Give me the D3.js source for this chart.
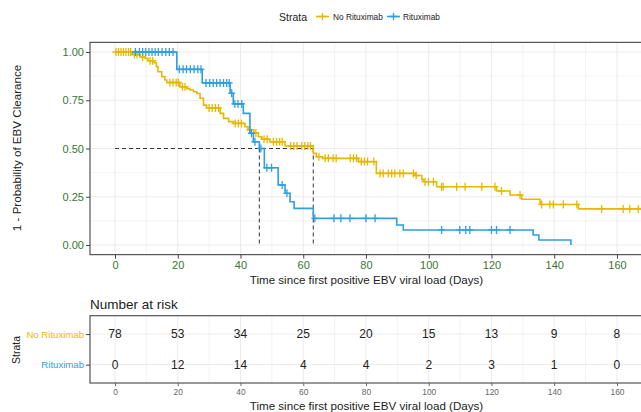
<!DOCTYPE html>
<html lang="en">
<head>
<meta charset="utf-8">
<title>EBV clearance by rituximab</title>
<script src="https://cdn.jsdelivr.net/npm/d3@7"></script>
<style>
body { margin: 0; background: #fff; }
text { font-family: "Liberation Sans", Arial, sans-serif; }
</style>
</head>
<body>
<script>

// strata + colours
var strata = ["No Rituximab", "Rituximab"];
var colors = ["#E7B800", "#2E9FDF"];

// No Rituximab: step times and value after each step
var noRitTime = [0, 5.5, 8.0, 9.6, 10.5, 12.5, 13.2, 13.7, 14.9, 15.9, 16.5, 20.7, 22.9, 23.9, 25.0, 26.1, 27.1, 28.2, 29.2, 33.5, 34.6, 36.2, 37.8, 41.4, 42.4, 44.3, 45.7, 46.8, 49.4, 54.2, 63.2, 64.2, 66.2, 77.6, 83.3, 95.6, 97.8, 98.4, 102.5, 121.6, 125.9, 129.6, 135.5, 147.7];
var noRitSurv = [1, 0.987, 0.974, 0.967, 0.955, 0.945, 0.924, 0.898, 0.872, 0.855, 0.842, 0.82, 0.81, 0.803, 0.794, 0.785, 0.76, 0.725, 0.71, 0.682, 0.656, 0.639, 0.63, 0.613, 0.596, 0.58, 0.561, 0.548, 0.535, 0.513, 0.475, 0.457, 0.449, 0.432, 0.371, 0.36, 0.34, 0.328, 0.302, 0.28, 0.259, 0.237, 0.21, 0.187];
var noRitEnd = 170;
var noRitCens = [0.3, 1.1, 1.9, 2.7, 3.5, 4.3, 5.0, 6.2, 7.0, 8.8, 11.2, 12.0, 17.5, 18.5, 19.5, 20.2, 21.5, 22.3, 30.0, 31.0, 32.0, 33.0, 38.3, 39.3, 40.3, 43.0, 44.9, 47.5, 48.5, 50.5, 51.5, 52.5, 53.3, 56.0, 57.0, 58.0, 59.5, 60.5, 61.5, 62.3, 65.0, 67.0, 68.0, 69.5, 70.5, 75.0, 76.0, 77.0, 78.5, 79.5, 80.5, 82.5, 84.5, 85.5, 87.1, 88.2, 89.2, 90.8, 91.9, 95.1, 96.0, 98.8, 99.9, 101.5, 104.1, 104.6, 108.9, 111.6, 116.9, 121.1, 123.2, 129.1, 136.0, 138.6, 139.7, 142.9, 147.2, 155.1, 162.0, 164.1, 166.8];

// Rituximab
var ritTime = [5.8, 19.7, 27.8, 36.7, 37.7, 40.9, 43.0, 44.1, 46.0, 47.6, 52.0, 54.2, 55.8, 57.1, 63.2, 89.8, 91.9, 133.3, 135.1, 145.3];
var ritSurv = [1, 0.91, 0.84, 0.786, 0.731, 0.682, 0.579, 0.535, 0.50, 0.40, 0.311, 0.268, 0.224, 0.19, 0.138, 0.104, 0.078, 0.052, 0.026, 0];
var ritEnd = 145.3;
var ritCens = [6.5, 7.8, 8.8, 9.8, 10.8, 11.8, 12.8, 13.8, 15.0, 16.2, 17.3, 18.5, 20.5, 21.7, 22.8, 24.0, 25.2, 26.4, 27.4, 29.0, 30.2, 31.3, 32.4, 33.5, 34.6, 35.6, 36.4, 37.2, 38.2, 39.2, 40.4, 43.5, 44.6, 46.5, 48.4, 49.9, 53.3, 54.8, 63.7, 69.8, 72.0, 74.9, 80.0, 82.9, 104.1, 109.9, 111.8, 113.1, 120.0, 121.6, 125.9];

var medians = [63.2, 46.0];

// risk table
var riskTimes = [0, 20, 40, 60, 80, 100, 120, 140, 160];
var riskNoRit = [78, 53, 34, 25, 20, 15, 13, 9, 8];
var riskRit = [0, 12, 14, 4, 4, 2, 3, 1, 0];

var xTicks = [0, 20, 40, 60, 80, 100, 120, 140, 160];
var yTicks = [0, 0.25, 0.5, 0.75, 1];

var W = 641, H = 412;
var svg = d3.select("body").append("svg")
  .attr("width", W).attr("height", H)
  .style("background", "#fff");

var x = d3.scaleLinear().domain([-7.97, 168.3]).range([90, 643]);
var y = d3.scaleLinear().domain([-0.05, 1.05]).range([254.65, 42.35]);

var tickCol = "#3a7434";
var gridCol = "#ebebeb";

// grid
var gx = d3.range(0, 170, 10);
var gy = d3.range(0, 1.01, 0.125);
svg.append("g").selectAll("line").data(gx).enter().append("line")
  .attr("x1", function(d) { return x(d); }).attr("x2", function(d) { return x(d); })
  .attr("y1", y(-0.05)).attr("y2", y(1.05))
  .attr("stroke", gridCol).attr("stroke-width", function(d) { return d % 20 == 0 ? 1 : 0.6; });
svg.append("g").selectAll("line").data(gy).enter().append("line")
  .attr("y1", function(d) { return y(d); }).attr("y2", function(d) { return y(d); })
  .attr("x1", 90).attr("x2", 643)
  .attr("stroke", gridCol).attr("stroke-width", function(d, i) { return i % 2 == 0 ? 1 : 0.6; });

svg.append("clipPath").attr("id", "clip")
  .append("rect").attr("x", 90).attr("y", 42).attr("width", 553).attr("height", 213);

// median lines
var med = svg.append("g").attr("stroke", "#333").attr("stroke-width", 1)
  .attr("stroke-dasharray", "4,3").attr("fill", "none");
med.append("line").attr("x1", x(0)).attr("x2", x(d3.max(medians)))
  .attr("y1", y(0.5)).attr("y2", y(0.5));
med.selectAll("line.v").data(medians).enter().append("line").attr("class", "v")
  .attr("x1", function(d) { return x(d); }).attr("x2", function(d) { return x(d); })
  .attr("y1", y(0.5)).attr("y2", y(0));

function stepAt(times, surv, t) {
  var i = d3.bisectRight(times, t) - 1;
  return surv[Math.max(i, 0)];
}

var line = d3.line()
  .x(function(d) { return x(d[0]); })
  .y(function(d) { return y(d[1]); })
  .curve(d3.curveStepAfter);

var series = [
  { times: noRitTime, surv: noRitSurv, end: noRitEnd, cens: noRitCens, col: colors[0] },
  { times: ritTime, surv: ritSurv, end: ritEnd, cens: ritCens, col: colors[1] }
];

var plot = svg.append("g").attr("clip-path", "url(#clip)");
series.forEach(function(s) {
  var pts = s.times.map(function(t, i) { return [t, s.surv[i]]; });
  pts.push([s.end, s.surv[s.surv.length - 1]]);
  plot.append("path").datum(pts)
    .attr("d", line).attr("fill", "none")
    .attr("stroke", s.col).attr("stroke-width", 1.6);
  plot.append("g").selectAll("path").data(s.cens).enter().append("path")
    .attr("transform", function(t) { return "translate(" + x(t) + "," + y(stepAt(s.times, s.surv, t)) + ")"; })
    .attr("d", "M-3.5,0H3.5M0,-4V4")
    .attr("stroke", s.col).attr("stroke-width", 1.3).attr("fill", "none");
});

// panel border
svg.append("rect").attr("x", 90).attr("y", 42.35).attr("width", 560).attr("height", 212.3)
  .attr("fill", "none").attr("stroke", "#444").attr("stroke-width", 1.1);

// axes
var yAxis = svg.append("g").attr("transform", "translate(90,0)")
  .call(d3.axisLeft(y).tickValues(yTicks).tickFormat(d3.format(".2f")).tickSize(4).tickPadding(2));
var xAxis = svg.append("g").attr("transform", "translate(0,254.65)")
  .call(d3.axisBottom(x).tickValues(xTicks).tickSize(4).tickPadding(3));
[xAxis, yAxis].forEach(function(a) {
  a.select(".domain").remove();
  a.selectAll("line").attr("stroke", "#444");
  a.selectAll("text").attr("fill", tickCol).attr("font-size", "11px")
    .style("font-family", "'Liberation Sans', Arial, sans-serif");
});

svg.append("text").attr("transform", "translate(21,148) rotate(-90)")
  .attr("text-anchor", "middle").attr("font-size", "11.6px").attr("fill", "#222")
  .text("1 - Probability of EBV Clearance");
svg.append("text").attr("x", 366.5).attr("y", 284)
  .attr("text-anchor", "middle").attr("font-size", "11.6px").attr("fill", "#222")
  .text("Time since first positive EBV viral load (Days)");

// legend
var leg = svg.append("g");
leg.append("text").attr("x", 279).attr("y", 20.5).attr("font-size", "10.5px").attr("fill", "#222").text("Strata");
var legX = [316, 387];
var legLabX = [333, 403];
strata.forEach(function(s, i) {
  leg.append("line").attr("x1", legX[i]).attr("x2", legX[i] + 13).attr("y1", 16.5).attr("y2", 16.5)
    .attr("stroke", colors[i]).attr("stroke-width", 1.6);
  leg.append("path").attr("d", "M" + (legX[i] + 3) + ",16.5h7M" + (legX[i] + 6.5) + ",13v7")
    .attr("stroke", colors[i]).attr("stroke-width", 1.3);
  leg.append("text").attr("x", legLabX[i]).attr("y", 19.6).attr("font-size", "8.3px").attr("fill", "#222").text(s);
});

// ---- risk table ----
var rTop = 315.7, rBot = 383;
var yr = d3.scalePoint().domain(strata).range([rTop, rBot]).padding(0.6);

svg.append("text").attr("x", 90).attr("y", 309).attr("font-size", "13.5px").attr("fill", "#222").text("Number at risk");

svg.append("g").selectAll("line").data(gx).enter().append("line")
  .attr("x1", function(d) { return x(d); }).attr("x2", function(d) { return x(d); })
  .attr("y1", rTop).attr("y2", rBot)
  .attr("stroke", gridCol).attr("stroke-width", function(d) { return d % 20 == 0 ? 1 : 0.6; });
svg.append("g").selectAll("line").data(strata).enter().append("line")
  .attr("y1", function(d) { return yr(d); }).attr("y2", function(d) { return yr(d); })
  .attr("x1", 90).attr("x2", 643).attr("stroke", gridCol);

var riskRows = [riskNoRit, riskRit];
riskRows.forEach(function(row, j) {
  svg.append("g").selectAll("text").data(row).enter().append("text")
    .attr("x", function(d, i) { return x(riskTimes[i]); })
    .attr("y", yr(strata[j]))
    .attr("dy", "0.36em").attr("text-anchor", "middle")
    .attr("font-size", "12px").attr("fill", "#222")
    .text(function(d) { return d; });
});

svg.append("rect").attr("x", 90).attr("y", rTop).attr("width", 560).attr("height", rBot - rTop)
  .attr("fill", "none").attr("stroke", "#444").attr("stroke-width", 1.1);

var ryAxis = svg.append("g").attr("transform", "translate(90,0)")
  .call(d3.axisLeft(yr).tickSize(4).tickPadding(2));
ryAxis.select(".domain").remove();
ryAxis.selectAll("line").attr("stroke", "#444");
ryAxis.selectAll("text").attr("font-size", "9.6px")
  .style("font-family", "'Liberation Sans', Arial, sans-serif")
  .attr("fill", function(d, i) { return colors[i]; });

var rxAxis = svg.append("g").attr("transform", "translate(0," + rBot + ")")
  .call(d3.axisBottom(x).tickValues(xTicks).tickSize(3).tickPadding(3));
rxAxis.select(".domain").remove();
rxAxis.selectAll("line").attr("stroke", "#666");
rxAxis.selectAll("text").attr("font-size", "8.4px").attr("fill", "#666")
  .style("font-family", "'Liberation Sans', Arial, sans-serif");

svg.append("text").attr("transform", "translate(20,350) rotate(-90)")
  .attr("text-anchor", "middle").attr("font-size", "10.5px").attr("fill", "#222").text("Strata");
svg.append("text").attr("x", 366.5).attr("y", 409.5)
  .attr("text-anchor", "middle").attr("font-size", "11.6px").attr("fill", "#222")
  .text("Time since first positive EBV viral load (Days)");

</script>
</body>
</html>
